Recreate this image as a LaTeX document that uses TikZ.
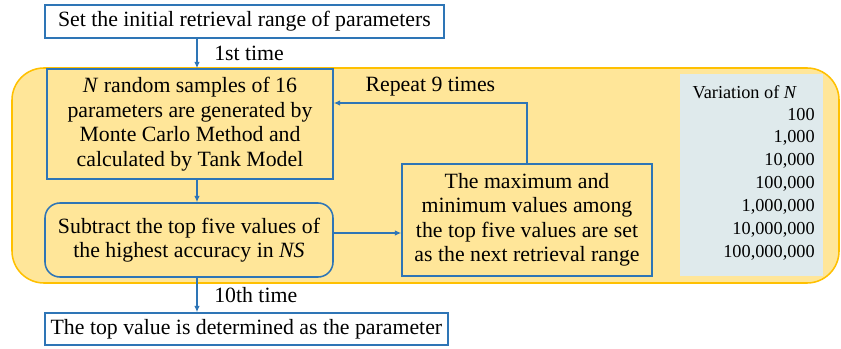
\documentclass[tikz,border=0pt]{standalone}
\usepackage{fontspec}
\setmainfont{Liberation Serif}
\usetikzlibrary{arrows.meta}

\definecolor{bandfill}{HTML}{FFE699}
\definecolor{bandline}{HTML}{FFC000}
\definecolor{flowblue}{HTML}{2E75B6}
\definecolor{listfill}{HTML}{DFEAEC}

\tikzset{
  flowbox/.style={draw=flowblue, line width=1.1pt, align=center, inner sep=2pt,
    font=\fontsize{15.5}{17.4}\selectfont},
  flowarrow/.style={draw=flowblue, line width=0.8pt, -{Latex[length=1.6mm,width=1.4mm]}},
  steplabel/.style={font=\fontsize{15.5}{17.4}\selectfont},
  listtext/.style={font=\fontsize{13}{16}\selectfont, inner sep=0pt}
}

\begin{document}
\begin{tikzpicture}
  \useasboundingbox (0,0) rectangle (21.025,-8.725);
  % loop region
  \draw[bandline, fill=bandfill, line width=1.1pt, rounded corners=0.8cm] (0.3,-1.7) rectangle (20.975,-7.075);

  \node[flowbox, fill=white, minimum width=9.975cm, minimum height=0.825cm] (init) at (6.11,-0.54) {Set the initial retrieval range of parameters};
  \node[flowbox, minimum width=7.15cm, minimum height=2.75cm] (sample) at (4.75,-3.1) {\textit{N} random samples of 16\\ parameters are generated by\\ Monte Carlo Method and\\ calculated by Tank Model};
  \node[flowbox, rounded corners=0.375cm, minimum width=7.2cm, minimum height=1.85cm] (select) at (4.725,-6.0) {Subtract the top five values of\\ the highest accuracy in \textit{NS}};
  \node[flowbox, minimum width=6.25cm, minimum height=2.8cm] (range) at (13.175,-5.5) {The maximum and\\ minimum values among\\ the top five values are set\\ as the next retrieval range};
  \node[flowbox, fill=white, minimum width=10.075cm, minimum height=0.8cm] (result) at (6.16,-8.225) {The top value is determined as the parameter};

  % list of sample sizes
  \node[fill=listfill, minimum width=3.575cm, minimum height=5.05cm] (sizes) at (18.79,-4.375) {};
  \node[listtext] (sizetitle) at (18.62,-2.3) {Variation of \textit{N}};
  \foreach \val [count=\k] in {100,{1,000},{10,000},{100,000},{1,000,000},{10,000,000},{100,000,000}}
    \node[listtext, anchor=east] (size\k) at (20.375,-2.3-0.575*\k) {\val};

  \coordinate (spine) at (4.925,0);
  \coordinate (back) at (0,-2.575);
  \coordinate (across) at (0,-5.825);

  \draw[flowarrow] (init.south -| spine) -- node[steplabel, right=0.3cm] {1st time} (sample.north -| spine);
  \draw[flowarrow] (sample.south -| spine) -- (select.north -| spine);
  \draw[flowarrow] (select.east |- across) -- (range.west |- across);
  \draw[flowarrow] (range.north) |- node[steplabel, pos=0.75, above=1pt] {Repeat 9 times} (sample.east |- back);
  \draw[flowarrow] (select.south -| spine) -- node[steplabel, right=0.3cm] {10th time} (result.north -| spine);
\end{tikzpicture}
\end{document}
